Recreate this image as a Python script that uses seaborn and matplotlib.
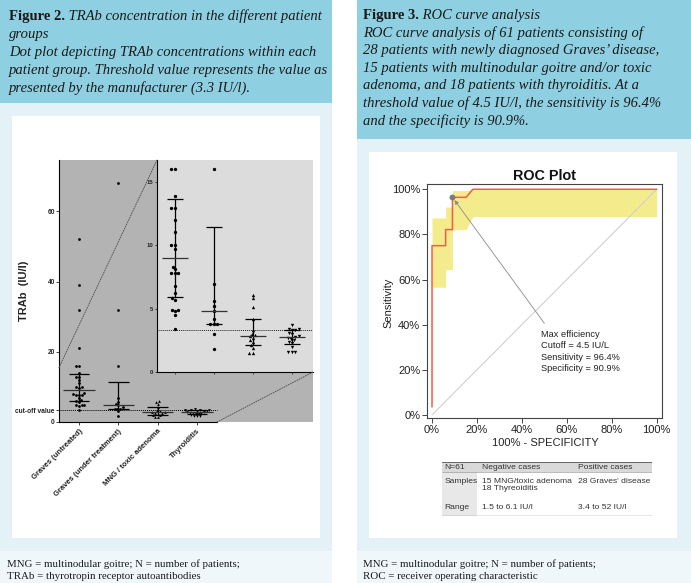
import warnings
import numpy as np
import pandas as pd
import matplotlib.pyplot as plt
import seaborn as sns
from matplotlib.patches import Rectangle, ConnectionPatch
from matplotlib.text import Annotation

warnings.filterwarnings("ignore")

# ---------------- data ----------------
groups = ["Graves (untreated)", "Graves (under treatment)", "MNG / toxic adenoma", "Thyroiditis"]
graves_untreated = [3.4, 4.5, 4.8, 4.9, 4.9, 5.7, 5.85, 6.2, 6.8, 7.8, 7.8, 7.8, 8.1, 8.3,
                    9.7, 10.0, 10.0, 11.0, 12.0, 12.9, 12.9, 13.9, 16.0, 16.0, 21.0, 32.0, 39.0, 52.0]
graves_treated = [1.8, 3.0, 3.75, 3.75, 3.75, 4.2, 4.8, 5.2, 5.6, 6.9, 16.0, 32.0, 68.0]
mng_toxic = [1.5, 1.5, 1.9, 2.1, 2.4, 2.5, 2.7, 2.8, 2.9, 3.0, 3.3, 4.2, 5.1, 5.8, 6.1]
thyroiditis = [1.6, 1.6, 1.6, 1.95, 2.3, 2.4, 2.5, 2.6, 2.7, 2.75, 2.8, 3.0, 3.1, 3.3, 3.3,
               3.4, 3.4, 3.7]
group_values = [graves_untreated, graves_treated, mng_toxic, thyroiditis]
group_markers = ["o", "o", "^", "v"]
cutoff = 3.3
main_ticks = [0, 20, 40, 60]
inset_ticks = [0, 5, 10, 15]

roc_fpr = [0, 0, 6.06, 6.06, 9.09, 9.09, 15.15, 18.18, 100]
roc_tpr = [3.57, 75.0, 75.0, 82.14, 82.14, 96.43, 96.43, 100, 100]
band_fpr = [0, 6.06, 6.06, 9.09, 9.09, 15.15, 18.18, 100]
band_low = [56.6, 56.6, 64.4, 64.4, 82.1, 82.1, 87.9, 87.9]
band_high = [87.3, 87.3, 92.1, 92.1, 99.4, 99.4, 100, 100]
best_fpr, best_tpr = 9.09, 96.43
roc_ticks = [0, 20, 40, 60, 80, 100]
roc_note = ["Max efficiency", "Cutoff = 4.5 IU/L", "Sensitivity = 96.4%", "Specificity = 90.9%"]

table_header = ["N=61", "Negative cases", "Positive cases"]
table_samples = ["Samples", "15 MNG/toxic adenoma\n18 Thyreoiditis", "28 Graves' disease"]
table_range = ["Range", "1.5 to 6.1 IU/l", "3.4 to 52 IU/l"]

fig2_bold = "Figure 2."
fig2_first = " TRAb concentration in the different patient"
fig2_lines = ["groups",
              "Dot plot depicting TRAb concentrations within each",
              "patient group. Threshold value represents the value as",
              "presented by the manufacturer (3.3 IU/l)."]
fig3_bold = "Figure 3."
fig3_first = " ROC curve analysis"
fig3_lines = ["ROC curve analysis of 61 patients consisting of",
              "28 patients with newly diagnosed Graves\u2019 disease,",
              "15 patients with multinodular goitre and/or toxic",
              "adenoma, and 18 patients with thyroiditis. At a",
              "threshold value of 4.5 IU/l, the sensitivity is 96.4%",
              "and the specificity is 90.9%."]
foot_left = ["MNG = multinodular goitre; N = number of patients;",
             "TRAb = thyrotropin receptor autoantibodies"]
foot_right = ["MNG = multinodular goitre; N = number of patients;",
              "ROC = receiver operating characteristic"]

# ---------------- layout helpers (pixels) ----------------
W, H = 691, 583
sns.set_theme(style="ticks")
plt.rcParams["font.family"] = ["Liberation Sans", "DejaVu Sans"]
SERIF = ["Liberation Serif", "DejaVu Serif"]

fig = plt.figure(figsize=(W / 100, H / 100), dpi=100)
fig.patch.set_facecolor("white")


def box(x0, y0, x1, y1):
    return [x0 / W, 1 - y1 / H, (x1 - x0) / W, (y1 - y0) / H]


def rect(x0, y0, x1, y1, color):
    l, b, w, h = box(x0, y0, x1, y1)
    fig.add_artist(Rectangle((l, b), w, h, transform=fig.transFigure,
                             facecolor=color, edgecolor="none", zorder=-10))


HEAD = "#8ED0E2"
LIGHT = "#E4F2F8"
FOOT = "#EFF7FB"
for x0, x1, hb in [(0, 332, 103), (357, 691, 139)]:
    rect(x0, 0, x1, hb, HEAD)
    rect(x0, hb, x1, 551, LIGHT)
    rect(x0, 551, x1, H, FOOT)
rect(12, 116, 320, 538, "white")
rect(369, 152, 677, 538, "white")

HEAD_SIZE = 10.55


def header(x, y, bold, first, lines, dy=17.9):
    t = fig.text(x / W, 1 - y / H, bold, fontsize=HEAD_SIZE, fontweight="bold",
                 family=SERIF, va="center", color="#1a1a1a")
    fig.add_artist(Annotation(first, xy=(1, 0.5), xycoords=t, va="center",
                              fontsize=HEAD_SIZE, fontstyle="italic", family=SERIF,
                              color="#1a1a1a"))
    for i, line in enumerate(lines):
        fig.text(x / W, 1 - (y + (i + 1) * dy) / H, line, fontsize=HEAD_SIZE,
                 fontstyle="italic", family=SERIF, va="center", color="#1a1a1a")


header(9, 16.5, fig2_bold, fig2_first, fig2_lines, dy=18.0)
header(363, 15.5, fig3_bold, fig3_first, fig3_lines, dy=17.6)

for x, lines in [(7, foot_left), (363, foot_right)]:
    for i, line in enumerate(lines):
        fig.text(x / W, 1 - (564 + 12.3 * i) / H, line, fontsize=7.85, family=SERIF,
                 va="center", color="#1a1a1a")

# ---------------- Figure 2: dot plot with inset ----------------
main_xlim = (-0.51, 5.95)
inset_xlim = (-0.46, 3.54)
zoom_top = 15.5

ax = fig.add_axes(box(59, 160, 313, 422))
ax.set_facecolor("#B3B3B3")
ax2 = fig.add_axes(box(157, 160, 313, 372))
ax2.set_facecolor("#DCDCDC")

for a, size, med_w, cap_w in [(ax, 2.0, 0.40, 0.26), (ax2, 2.4, 0.34, 0.2)]:
    for g, vals, m in zip(groups, group_values, group_markers):
        sns.swarmplot(x=[g] * len(vals), y=vals, order=groups, marker=m,
                      color="black", size=size, linewidth=0, ax=a, zorder=3)
    for i, vals in enumerate(group_values):
        q1, med, q3 = np.percentile(vals, [25, 50, 75], method="weibull")
        a.vlines(i, q1, q3, color="black", lw=0.9, zorder=4)
        a.hlines([q1, q3], i - cap_w, i + cap_w, color="black", lw=0.9, zorder=4)
        a.hlines(med, i - med_w, i + med_w, color="#333333", lw=0.9, zorder=4)

ax.set_xlim(*main_xlim)
ax.set_ylim(0, 74.6)
ax.hlines(cutoff, main_xlim[0], 3.51, color="black", ls=(0, (1, 1)), lw=0.7, zorder=2)
for s in ["top", "right"]:
    ax.spines[s].set_visible(False)
ax.spines["bottom"].set_bounds(main_xlim[0], 3.51)
for s in ["left", "bottom"]:
    ax.spines[s].set_linewidth(0.8)
    ax.spines[s].set_color("black")
ax.set_yticks([0, cutoff] + main_ticks[1:],
              labels=["0", "cut-off value"] + [str(v) for v in main_ticks[1:]])
ax.set_xticks(range(len(groups)))
ax.set_xticklabels(groups, rotation=45, ha="right", rotation_mode="anchor",
                   fontsize=5.5, fontweight="bold", color="#222222")
ax.tick_params(axis="y", labelsize=4.8, length=2, width=0.6, pad=1)
ax.tick_params(axis="x", length=2, width=0.6, pad=2)
for lab in ax.get_yticklabels():
    lab.set_fontweight("bold")
ax.set_xlabel("")
ax.set_ylabel("TRAb  (IU/l)", fontsize=8, fontweight="bold", color="#222222")
ax.yaxis.set_label_coords(-0.118, 0.5)

ax2.set_xlim(*inset_xlim)
ax2.set_ylim(0, 16.7)
ax2.axhline(cutoff, color="#222222", ls=(0, (1, 1)), lw=0.7, zorder=2)
for s in ["top", "right"]:
    ax2.spines[s].set_visible(False)
for s in ["left", "bottom"]:
    ax2.spines[s].set_linewidth(0.8)
    ax2.spines[s].set_color("black")
ax2.set_yticks(inset_ticks)
ax2.set_xticks(range(len(groups)))
ax2.set_xticklabels([])
ax2.set_xlabel("")
ax2.tick_params(axis="y", labelsize=4.3, length=1.5, width=0.6, pad=1)
ax2.tick_params(axis="x", length=1.5, width=0.6)
for lab in ax2.get_yticklabels():
    lab.set_fontweight("bold")

for xyA, xyB in [((main_xlim[0], zoom_top), (0, 1)), ((3.51, 0), (1, 0))]:
    fig.add_artist(ConnectionPatch(xyA=xyA, coordsA=ax.transData,
                                   xyB=xyB, coordsB=ax2.transAxes,
                                   color="#555555", ls=(0, (1, 1.5)), lw=0.7))

# ---------------- Figure 3: ROC plot ----------------
ax3 = fig.add_axes(box(427.3, 184.3, 661.7, 418.3))
ax3.set_facecolor("white")
ax3.fill_between(band_fpr, band_low, band_high, color="#F3EB8C", lw=0, zorder=1)
ax3.plot([0, 100], [0, 100], color="#D0D0D0", lw=0.8, zorder=2)
sns.lineplot(x=roc_fpr, y=roc_tpr, sort=False, estimator=None, color="#EE5F45",
             lw=1.1, ax=ax3, zorder=3)
ax3.scatter([best_fpr], [best_tpr], s=18, color="#7A7A7A", zorder=5, lw=0)
ax3.annotate("", xy=(best_fpr, best_tpr), xytext=(50, 40.6),
             arrowprops=dict(arrowstyle="-|>", color="#8A8A8A", lw=0.6,
                             mutation_scale=6, shrinkA=0, shrinkB=2.5), zorder=4)
for i, line in enumerate(roc_note):
    ax3.text(48.5, 35.7 - 5.1 * i, line, fontsize=6.7, va="center", color="#222222")

ax3.set_xlim(-2.1, 102.2)
ax3.set_ylim(-1.5, 102.2)
ax3.set_xticks(roc_ticks, labels=[f"{v}%" for v in roc_ticks])
ax3.set_yticks(roc_ticks, labels=[f"{v}%" for v in roc_ticks])
ax3.tick_params(labelsize=8, length=3.5, width=0.7, direction="out",
                color="#444444", labelcolor="#222222", pad=1.5)
for s in ax3.spines.values():
    s.set_visible(True)
    s.set_linewidth(0.8)
    s.set_color("#444444")
ax3.set_title("ROC Plot", fontsize=10.4, fontweight="bold", pad=3, color="#111111")
ax3.set_xlabel("100% - SPECIFICITY", fontsize=8, color="#222222")
ax3.xaxis.set_label_coords(0.502, -0.086)
ax3.set_ylabel("Sensitivity", fontsize=8, color="#222222")
ax3.yaxis.set_label_coords(-0.146, 0.493)

# ---------------- table below ROC ----------------
ax4 = fig.add_axes(box(442, 462, 652, 516))
ax4.set_xlim(0, 1)
ax4.set_ylim(0, 1)
ax4.axis("off")
ax4.add_patch(Rectangle((0, 0.815), 1, 0.185, facecolor="#D9D9D9", edgecolor="none"))
ax4.add_patch(Rectangle((0, 0), 0.167, 0.815, facecolor="#E8E8E8", edgecolor="none"))
ax4.axhline(1, color="#555555", lw=0.6)
ax4.axhline(0.815, color="#888888", lw=0.4)
ax4.axhline(0, color="#444444", lw=0.9)
col_x = [0.01, 0.19, 0.648]
for row, y in [(table_header, 0.894), (table_samples, 0.71), (table_range, 0.154)]:
    for x, txt in zip(col_x, row):
        va = "top" if row is table_samples else "center"
        ax4.text(x, y, txt, fontsize=6.1, va=va, color="#333333", linespacing=1.0)

fig.savefig("out.png", dpi=100)
